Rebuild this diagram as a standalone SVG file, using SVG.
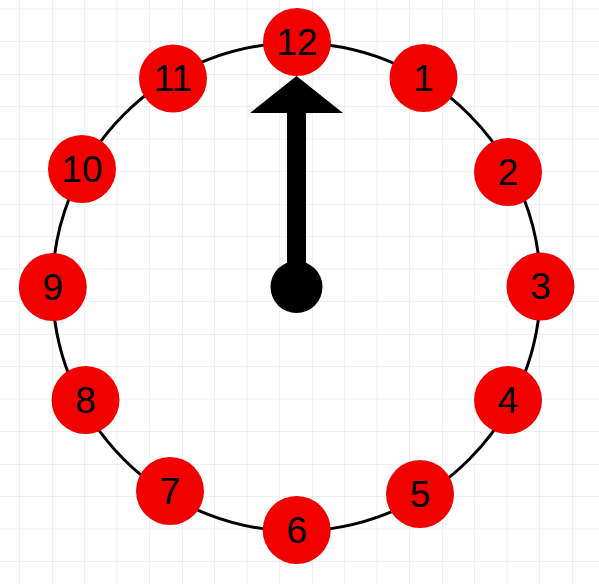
<svg xmlns="http://www.w3.org/2000/svg" width="599" height="584" viewBox="0 0 599 584">
  <defs>
    <pattern id="grid" x="52" y="74" width="130" height="130" patternUnits="userSpaceOnUse">
      <path d="M32.5 0V130M65 0V130M97.5 0V130M0 32.5H130M0 65H130M0 97.5H130" stroke="#f0f0f0" stroke-width="1" fill="none"/>
      <path d="M0 0V130M0 0H130" stroke="#e2e2e2" stroke-width="1" fill="none"/>
    </pattern>
  </defs>
  <style>
    .num circle { fill: #f20000; }
    .num text { font-family: "Liberation Sans", Arial, sans-serif; font-size: 37px; fill: #000; text-anchor: middle; dominant-baseline: central; }
  </style>
  <rect width="599" height="584" fill="#ffffff"/>
  <rect width="599" height="584" fill="url(#grid)"/>

  <g id="dial">
    <circle cx="296.5" cy="287" r="244" fill="none" stroke="#000" stroke-width="3"/>
  </g>

  <g id="connectors">
    <g id="hand">
      <rect x="287" y="110" width="19" height="170" fill="#000"/>
      <polygon points="296.5,76 250,113 343,113" fill="#000"/>
      <circle cx="296.5" cy="287" r="26" fill="#000"/>
    </g>
  </g>

  <g id="n12" class="num"><circle cx="297" cy="42" r="34"/><text x="297" y="42">12</text></g>
  <g id="n1" class="num"><circle cx="423.5" cy="78" r="34"/><text x="423.5" y="78">1</text></g>
  <g id="n2" class="num"><circle cx="508" cy="172" r="34"/><text x="508" y="172">2</text></g>
  <g id="n3" class="num"><circle cx="540.5" cy="286.5" r="34"/><text x="540.5" y="286.5">3</text></g>
  <g id="n4" class="num"><circle cx="508" cy="400" r="34"/><text x="508" y="400">4</text></g>
  <g id="n5" class="num"><circle cx="420" cy="494" r="34"/><text x="420" y="494">5</text></g>
  <g id="n6" class="num"><circle cx="296.7" cy="530" r="34"/><text x="296.7" y="530">6</text></g>
  <g id="n7" class="num"><circle cx="170" cy="491" r="34"/><text x="170" y="491">7</text></g>
  <g id="n8" class="num"><circle cx="85.5" cy="400" r="34"/><text x="85.5" y="400">8</text></g>
  <g id="n9" class="num"><circle cx="52.8" cy="287" r="34"/><text x="52.8" y="287">9</text></g>
  <g id="n10" class="num"><circle cx="82" cy="169" r="34"/><text x="82" y="169">10</text></g>
  <g id="n11" class="num"><circle cx="173" cy="78.5" r="34"/><text x="173" y="78.5">11</text></g>
</svg>
